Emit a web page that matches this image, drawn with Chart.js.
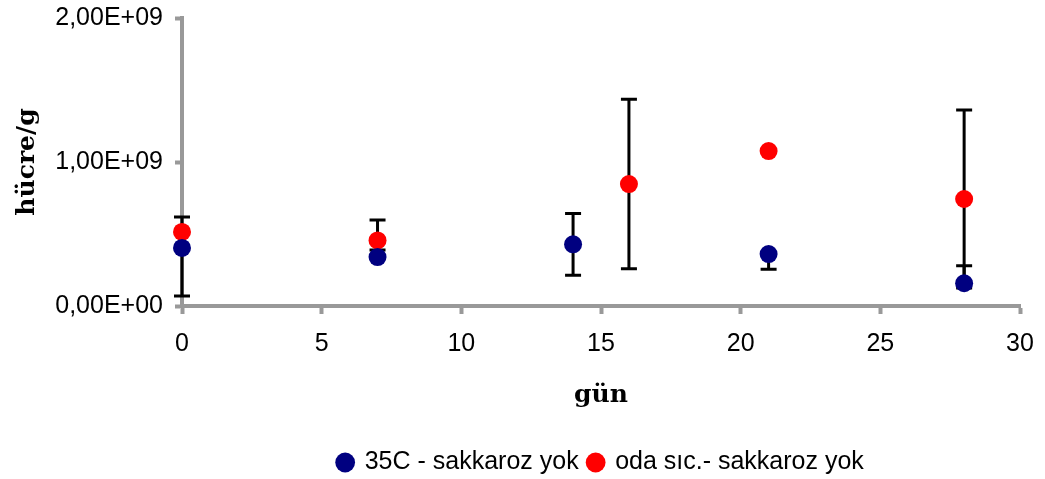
<!DOCTYPE html>
<html lang="tr">
<head>
  <meta charset="UTF-8">
  <title>hücre/g - gün</title>
  <script src="https://cdn.jsdelivr.net/npm/chart.js"></script>
  <style>
    html, body {
      margin: 0;
      padding: 0;
      background: #ffffff;
    }
    #wrap {
      width: 1045px;
      height: 479px;
    }
  </style>
</head>
<body>
  <div id="wrap"><canvas id="hucreChart"></canvas></div>

  <script>
    // 35C - sakkaroz yok
    const gun35 = [0, 7, 14, 21, 28];
    const hucre35 = [4.03e8, 3.40e8, 4.28e8, 3.61e8, 1.58e8];
    const hata35Alt = [3.34e8, 0, 2.14e8, 1.06e8, 0];
    const hata35Ust = [0, 0, 2.14e8, 0, 1.22e8];

    // oda sıc. - sakkaroz yok
    const gunOda = [0, 7, 16, 21, 28];
    const hucreOda = [5.14e8, 4.55e8, 8.47e8, 1.076e9, 7.43e8];
    const hataOdaAlt = [0, 6.6e7, 5.88e8, 0, 6.18e8];
    const hataOdaUst = [1.04e8, 1.42e8, 5.88e8, 0, 6.18e8];

    const seriAdlari = ["35C - sakkaroz yok", "oda sıc.- sakkaroz yok"];
    const xEtiket = "gün";
    const yEtiket = "hücre/g";

    const AXIS_GRAY = "#999999";
    const SANS = "'Liberation Sans', Arial, sans-serif";
    const SERIF = "'DejaVu Serif', 'Liberation Serif', serif";

    // 2,00E+09 gibi Excel biçimi
    function bilimsel(v) {
      const parts = Number(v).toExponential(2).split("e");
      const us = parseInt(parts[1], 10);
      return parts[0].replace(".", ",") + "E" + (us < 0 ? "-" : "+") + String(Math.abs(us)).padStart(2, "0");
    }

    function noktalar(xs, ys, alt, ust) {
      return xs.map((x, i) => ({ x: x, y: ys[i], alt: alt[i], ust: ust[i] }));
    }

    // hata çubukları noktaların altına çizilir
    const hataCubugu = {
      id: "hataCubugu",
      beforeDatasetsDraw(chart) {
        const ctx = chart.ctx;
        const xs = chart.scales.x;
        const ys = chart.scales.y;
        ctx.save();
        ctx.strokeStyle = "#000000";
        ctx.lineWidth = 3;
        chart.data.datasets.forEach((ds) => {
          ds.data.forEach((p) => {
            if (!p.alt && !p.ust) return;
            const px = xs.getPixelForValue(p.x);
            const yTop = ys.getPixelForValue(p.y + p.ust);
            const yBot = ys.getPixelForValue(p.y - p.alt);
            ctx.beginPath();
            ctx.moveTo(px, yTop);
            ctx.lineTo(px, yBot);
            if (p.ust) {
              ctx.moveTo(px - 8, yTop);
              ctx.lineTo(px + 8, yTop);
            }
            if (p.alt) {
              ctx.moveTo(px - 8, yBot);
              ctx.lineTo(px + 8, yBot);
            }
            ctx.stroke();
          });
        });
        ctx.restore();
      }
    };

    const ctx = document.getElementById("hucreChart").getContext("2d");
    new Chart(ctx, {
      type: "scatter",
      data: {
        datasets: [
          {
            label: seriAdlari[0],
            data: noktalar(gun35, hucre35, hata35Alt, hata35Ust),
            backgroundColor: "#000080",
            borderColor: "#000080",
            borderWidth: 0,
            pointRadius: 9,
            pointHoverRadius: 9,
            clip: false
          },
          {
            label: seriAdlari[1],
            data: noktalar(gunOda, hucreOda, hataOdaAlt, hataOdaUst),
            backgroundColor: "#ff0000",
            borderColor: "#ff0000",
            borderWidth: 0,
            pointRadius: 9,
            pointHoverRadius: 9,
            clip: false
          }
        ]
      },
      options: {
        responsive: true,
        maintainAspectRatio: false,
        animation: false,
        events: [],
        layout: {
          padding: { left: 0, right: 25, top: 18, bottom: -6 }
        },
        scales: {
          x: {
            type: "linear",
            min: 0,
            max: 30,
            ticks: {
              stepSize: 5,
              padding: 15,
              color: "#000000",
              font: { family: SANS, size: 25 }
            },
            grid: {
              drawOnChartArea: false,
              drawTicks: true,
              tickLength: 8,
              tickWidth: 4,
              tickColor: AXIS_GRAY,
              color: AXIS_GRAY
            },
            border: { color: AXIS_GRAY, width: 4 },
            title: {
              display: true,
              text: xEtiket,
              color: "#000000",
              font: { family: SERIF, size: 25, weight: "bold" },
              padding: { top: 0, bottom: 30 }
            },
            afterFit(scale) {
              const lg = scale.chart.legend;
              const lh = lg && lg.height ? lg.height : 45;
              scale.height = 479 + 6 - lh - 306;
              scale.paddingLeft = 0;
              scale.paddingRight = 0;
            }
          },
          y: {
            type: "linear",
            min: 0,
            max: 2e9,
            ticks: {
              stepSize: 1e9,
              padding: 12,
              color: "#000000",
              font: { family: SANS, size: 25 },
              callback: (v) => bilimsel(v)
            },
            grid: {
              drawOnChartArea: false,
              drawTicks: true,
              tickLength: 7,
              tickWidth: 4,
              tickColor: AXIS_GRAY,
              color: AXIS_GRAY
            },
            border: { color: AXIS_GRAY, width: 4 },
            title: {
              display: true,
              text: yEtiket,
              color: "#000000",
              font: { family: SERIF, size: 25, weight: "bold" },
              padding: { top: 12, bottom: 0 }
            },
            afterFit(scale) {
              scale.width = 182;
              scale.paddingTop = 0;
              scale.paddingBottom = 0;
            }
          }
        },
        plugins: {
          legend: {
            position: "bottom",
            fullSize: false,
            labels: {
              usePointStyle: true,
              pointStyle: "circle",
              boxWidth: 14,
              boxHeight: 14,
              padding: 10,
              color: "#000000",
              font: { family: SANS, size: 25 }
            }
          },
          tooltip: { enabled: false }
        }
      },
      plugins: [hataCubugu]
    });
  </script>
</body>
</html>
